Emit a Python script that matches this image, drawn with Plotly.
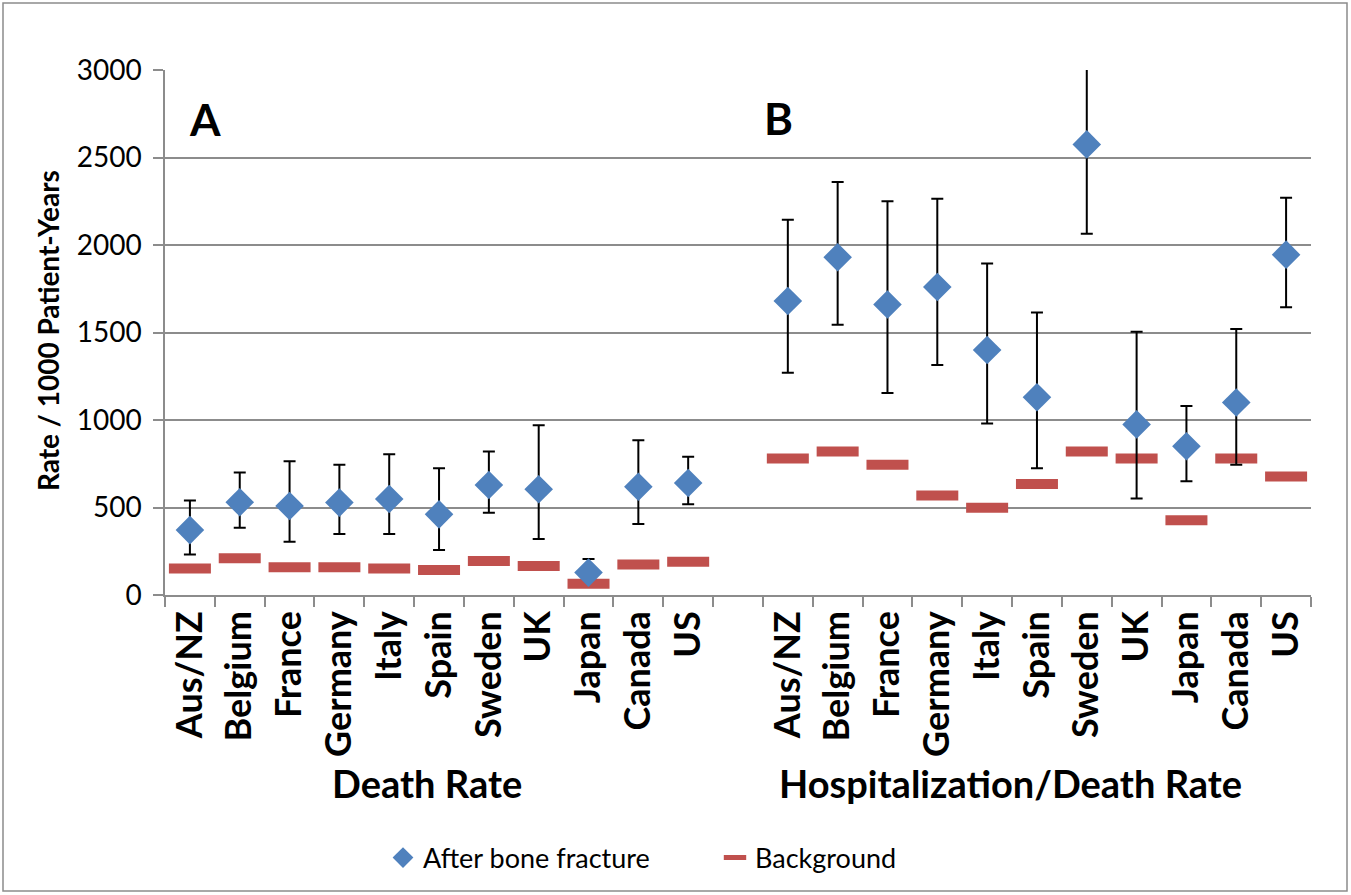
import plotly.graph_objects as go

countries = ["Aus/NZ", "Belgium", "France", "Germany", "Italy", "Spain",
             "Sweden", "UK", "Japan", "Canada", "US"]

# Panel A: death rate
death_fx = [371, 530, 509, 528, 549, 461, 629, 604, 128, 619, 640]
death_hi = [540, 700, 765, 745, 805, 725, 820, 970, 206, 885, 790]
death_lo = [232, 385, 305, 349, 349, 257, 470, 320, 128, 406, 518]
death_bg = [152, 210, 158, 158, 152, 143, 194, 166, 65, 175, 190]

# Panel B: hospitalization/death rate
hosp_fx = [1680, 1930, 1660, 1760, 1400, 1130, 2575, 975, 850, 1100, 1945]
hosp_hi = [2145, 2360, 2250, 2265, 1895, 1615, 3100, 1505, 1080, 1520, 2270]
hosp_lo = [1270, 1545, 1155, 1315, 980, 725, 2065, 552, 650, 745, 1645]
hosp_bg = [780, 820, 745, 568, 499, 634, 820, 780, 427, 780, 677]

n = len(countries)
xa = list(range(n))
xb = [i + n + 1 for i in range(n)]
xs = xa + xb
fx = death_fx + hosp_fx
hi = death_hi + hosp_hi
lo = death_lo + hosp_lo
bg = death_bg + hosp_bg

BLUE = "#4F81BD"
RED = "#C0504D"
GRID = "#8C8C8C"
FONT = "Lato"

W, H = 1351, 895
ML, MR, MT, MB = 165, 40, 70, 300
PW = W - ML - MR
PH = H - MT - MB

fig = go.Figure()
fig.add_trace(go.Scatter(
    x=xs, y=bg, mode="markers", name="Background",
    marker=dict(symbol="line-ew", size=30, color=RED,
                line=dict(color=RED, width=10)),
))
fig.add_trace(go.Scatter(
    x=xs, y=fx, mode="markers", name="After bone fracture",
    marker=dict(symbol="diamond", size=22, color=BLUE, line=dict(width=0)),
    error_y=dict(type="data", symmetric=False,
                 array=[h - v for h, v in zip(hi, fx)],
                 arrayminus=[v - l for l, v in zip(lo, fx)],
                 color="black", thickness=2, width=6),
))

def px2paper_x(px):
    return (px - ML) / PW

def px2paper_y(py):
    return 1 - (py - MT) / PH

def ann(text, x, y, size, angle=0):
    return dict(text=text, x=px2paper_x(x), y=px2paper_y(y), xref="paper", yref="paper",
                xanchor="center", yanchor="middle", textangle=angle,
                showarrow=False, font=dict(size=size, color="black", family=FONT))

annotations = [
    ann("<b>A</b>", 205, 119, 44),
    ann("<b>B</b>", 778, 118, 44),
    ann("<b>Death Rate</b>", 427, 783, 38),
    ann("<b>Hospitalization/Death Rate</b>", 1010, 783, 38),
    ann("<b>Rate / 1000 Patient-Years</b>", 48, 331, 28, -90),
]

fig.update_layout(
    width=W, height=H,
    margin=dict(l=ML, r=MR, t=MT, b=MB),
    paper_bgcolor="white", plot_bgcolor="white",
    font=dict(family=FONT, color="black"),
    showlegend=True,
    legend=dict(orientation="h", x=px2paper_x(383), y=px2paper_y(858),
                xanchor="left", yanchor="middle",
                font=dict(size=27, family=FONT, color="black"),
                traceorder="reversed", itemwidth=30, entrywidth=287),
    annotations=annotations,
    shapes=[dict(type="rect", xref="paper", yref="paper",
                 x0=px2paper_x(3), x1=px2paper_x(W - 4),
                 y0=px2paper_y(H - 4), y1=px2paper_y(3),
                 line=dict(color="#8C8C8C", width=1.5), layer="below")],
)

fig.update_xaxes(
    range=[-0.5, 2 * n + 0.5],
    tickmode="array", tickvals=xs, ticktext=countries + countries,
    tickangle=-90, ticks="",
    tickfont=dict(size=36, family=FONT, color="black", weight="bold"),
    showgrid=False, zeroline=False,
    showline=True, linecolor=GRID, linewidth=1.5,
    minor=dict(tickmode="linear", tick0=-0.5, dtick=1, ticks="outside",
               ticklen=10, tickcolor=GRID, tickwidth=1.5, showgrid=False),
)
fig.update_yaxes(
    range=[0, 3000], tickmode="linear", tick0=0, dtick=500,
    showgrid=True, gridcolor=GRID, gridwidth=1.5,
    ticks="outside", ticklen=10, tickcolor=GRID, tickwidth=1.5,
    showline=True, linecolor=GRID, linewidth=1.5, zeroline=False,
    tickfont=dict(size=28, family=FONT, color="black"),
    ticklabelstandoff=6,
)

fig.write_html("out.html")
